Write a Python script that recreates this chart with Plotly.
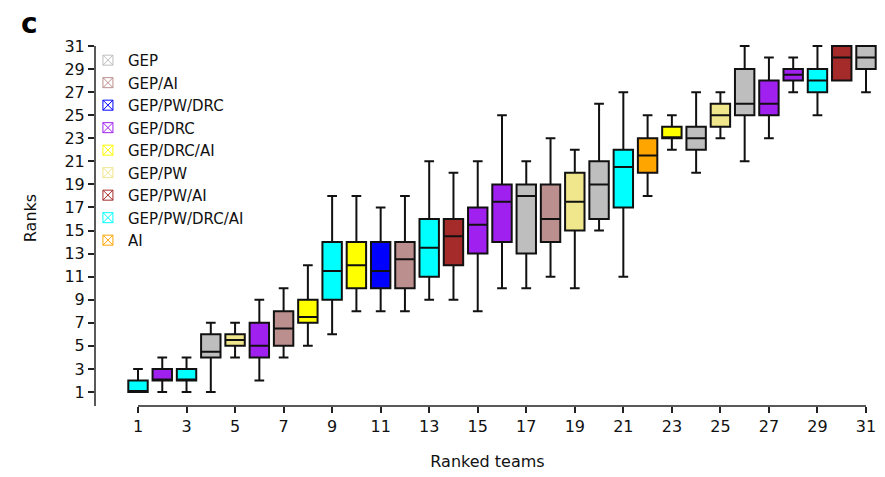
import plotly.graph_objects as go

# ---- data ----
teams = list(range(1, 32))
groups = ["GEP/PW/DRC/AI", "GEP/DRC", "GEP/PW/DRC/AI", "GEP", "GEP/PW", "GEP/DRC", "GEP/AI",
          "GEP/DRC/AI", "GEP/PW/DRC/AI", "GEP/DRC/AI", "GEP/PW/DRC", "GEP/AI", "GEP/PW/DRC/AI",
          "GEP/PW/AI", "GEP/DRC", "GEP/DRC", "GEP", "GEP/AI", "GEP/PW", "GEP", "GEP/PW/DRC/AI",
          "AI", "GEP/DRC/AI", "GEP", "GEP/PW", "GEP", "GEP/DRC", "GEP/DRC", "GEP/PW/DRC/AI",
          "GEP/PW/AI", "GEP"]
lower_w = [1, 1, 1, 1, 4, 2, 4, 5, 6, 8, 8, 8, 9, 9, 8, 10, 10, 11, 10, 15, 11, 18, 22, 20, 23, 21, 23, 27, 25, 28, 27]
q1 =      [1, 2, 2, 4, 5, 4, 5, 7, 9, 10, 10, 10, 11, 12, 13, 14, 13, 14, 15, 16, 17, 20, 23, 22, 24, 25, 25, 28, 27, 28, 29]
median =  [1, 2, 2, 4.5, 5.5, 5, 6.5, 7.5, 11.5, 12, 11.5, 12.5, 13.5, 14.5, 15.5, 17.5, 18, 16, 17.5, 19, 20.5, 21.5, 23, 23, 25, 26, 26, 28.5, 28, 30, 30]
q3 =      [2, 3, 3, 6, 6, 7, 8, 9, 14, 14, 14, 14, 16, 16, 17, 19, 19, 19, 20, 21, 22, 23, 24, 24, 26, 29, 28, 29, 29, 31, 31]
upper_w = [3, 4, 4, 7, 7, 9, 10, 12, 18, 18, 17, 18, 21, 20, 21, 25, 21, 23, 22, 26, 27, 25, 25, 27, 27, 31, 30, 30, 31, 31, 31]

legend_names = ["GEP", "GEP/AI", "GEP/PW/DRC", "GEP/DRC", "GEP/DRC/AI", "GEP/PW",
                "GEP/PW/AI", "GEP/PW/DRC/AI", "AI"]
legend_colors = ["#BEBEBE", "#BC8F8F", "#0000FF", "#A020F0", "#FFFF00", "#F0E68C",
                 "#A52A2A", "#00FFFF", "#FFA500"]
tick_vals = list(range(1, 32, 2))

color_of = dict(zip(legend_names, legend_colors))

FONT = "DejaVu Sans, Liberation Sans, Arial, sans-serif"
X_RANGE = [-0.772, 31.577]
Y_RANGE = [-0.214, 32.387]

fig = go.Figure()

for i, t in enumerate(teams):
    fig.add_trace(go.Box(
        x=[t], q1=[q1[i]], median=[median[i]], q3=[q3[i]],
        lowerfence=[lower_w[i]], upperfence=[upper_w[i]],
        fillcolor=color_of[groups[i]],
        line=dict(color="#111111", width=2),
        width=0.8, whiskerwidth=0.5,
        showlegend=False, hoverinfo="skip", boxpoints=False,
    ))

for name, col in zip(legend_names, legend_colors):
    fig.add_trace(go.Scatter(
        x=[None], y=[None], mode="markers", name=name,
        marker=dict(symbol="square-x-open", size=10, color=col, line=dict(width=1, color=col)),
    ))

# the page body adds an 8px offset, so the figure is 8px smaller on each side
fig.update_layout(
    width=877, height=469,
    margin=dict(l=87, r=5, t=22, b=71, autoexpand=False),
    paper_bgcolor="white", plot_bgcolor="white",
    font=dict(family=FONT, size=16, color="#111111"),
    boxmode="overlay",
    showlegend=True,
    legend=dict(x=-0.009, y=0.963, xanchor="left", yanchor="top",
                bgcolor="rgba(0,0,0,0)", borderwidth=0,
                font=dict(family=FONT, size=15, color="#111111"),
                tracegroupgap=0),
    xaxis=dict(range=X_RANGE, tickmode="array", tickvals=tick_vals, automargin=False,
               ticks="outside", ticklen=6, tickwidth=1.5, tickcolor="#222222",
               showline=False, showgrid=False, zeroline=False,
               tickfont=dict(size=16),
               title=dict(text="Ranked teams", font=dict(size=16), standoff=20)),
    yaxis=dict(range=Y_RANGE, tickmode="array", tickvals=tick_vals, automargin=False,
               ticks="outside", ticklen=6, tickwidth=1.5, tickcolor="#222222",
               showline=False, showgrid=False, zeroline=False,
               tickfont=dict(size=16),
               title=dict(text="Ranks", font=dict(size=16), standoff=23)),
    shapes=[
        dict(type="line", xref="x", yref="paper", x0=teams[0], x1=teams[-1], y0=0, y1=0,
             line=dict(color="#222222", width=1.5)),
        dict(type="line", xref="paper", yref="y", x0=0, x1=0, y0=Y_RANGE[0], y1=tick_vals[-1],
             line=dict(color="#222222", width=1.5)),
    ],
    annotations=[
        dict(text="<b>c</b>", xref="paper", yref="paper", x=-0.084, y=1.016,
             xanchor="center", yanchor="middle", showarrow=False,
             font=dict(family=FONT, size=28, color="#000000")),
    ],
)

fig.write_html("out.html")
